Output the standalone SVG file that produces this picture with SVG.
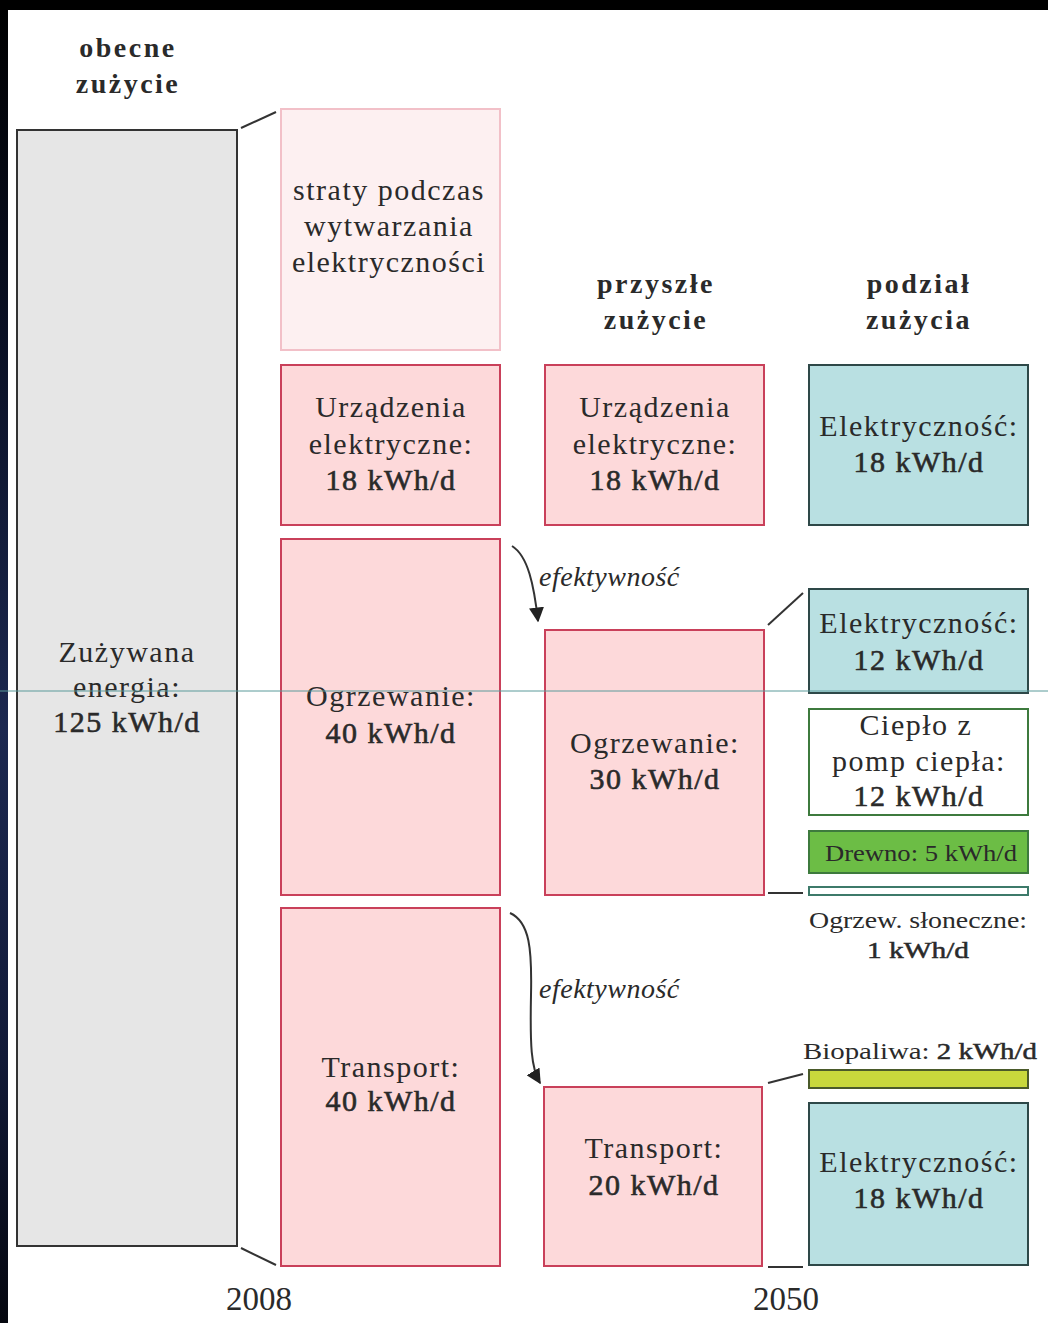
<svg xmlns="http://www.w3.org/2000/svg" width="1048" height="1323" viewBox="0 0 1048 1323">
<defs>
<linearGradient id="edge" x1="0" y1="0" x2="0" y2="1">
<stop offset="0" stop-color="#000000"/>
<stop offset="0.25" stop-color="#0a1024"/>
<stop offset="0.55" stop-color="#1c2850"/>
<stop offset="0.8" stop-color="#121a38"/>
<stop offset="1" stop-color="#05070f"/>
</linearGradient>
<marker id="arr" viewBox="0 0 10 10" refX="9" refY="5" markerWidth="15" markerHeight="15" markerUnits="userSpaceOnUse" orient="auto">
<path d="M0,0 L10,5 L0,10 Z" fill="#222"/>
</marker>
<style>
text{font-family:"Liberation Serif","DejaVu Serif",serif;fill:#2a2a2a;text-anchor:middle}
.t{font-size:30px;letter-spacing:1.5px}
.b{font-size:30px;letter-spacing:1.5px;stroke:#2a2a2a;stroke-width:0.6px}
.h{font-size:28px;font-weight:bold;letter-spacing:2.5px}
.s{font-size:24px}
.i{font-size:28px;font-style:italic;text-anchor:start;letter-spacing:0.5px}
.y{font-size:33px}
.pink{fill:#fdd9da;stroke:#c9405a;stroke-width:2}
.lpink{fill:#fdf0f1;stroke:#f2c0c8;stroke-width:2}
.teal{fill:#b9e0e2;stroke:#2e4848;stroke-width:2}
.grn{fill:#ffffff;stroke:#3d7a3d;stroke-width:2}
.ln{stroke:#333;stroke-width:2;fill:none}
</style>
</defs>
<rect width="1048" height="1323" fill="#ffffff"/>
<rect x="0" y="0" width="8" height="1323" fill="url(#edge)"/>
<rect x="0" y="0" width="1048" height="10" fill="#000"/>

<g id="headers">
<text class="h" x="128" y="57">obecne</text>
<text class="h" x="128" y="93">zużycie</text>
<text class="h" x="656" y="293">przyszłe</text>
<text class="h" x="656" y="329">zużycie</text>
<text class="h" x="919" y="293">podział</text>
<text class="h" x="919" y="329">zużycia</text>
</g>

<g id="connectors">
<line class="ln" x1="241" y1="128" x2="276" y2="112"/>
<line class="ln" x1="241" y1="1248" x2="276" y2="1265"/>
<line class="ln" x1="768" y1="625" x2="803" y2="593"/>
<line class="ln" x1="768" y1="893" x2="803" y2="893"/>
<line class="ln" x1="768" y1="1083" x2="803" y2="1074"/>
<line class="ln" x1="768" y1="1267" x2="803" y2="1267"/>
<path class="ln" stroke-width="1.5" d="M512,546 C528,556 534,585 538,621" marker-end="url(#arr)"/>
<path class="ln" stroke-width="1.5" d="M510,913 C530,922 532,950 531,995 C530,1045 531,1068 540,1083" marker-end="url(#arr)"/>
<text class="i" x="539" y="586">efektywność</text>
<text class="i" x="539" y="998">efektywność</text>
</g>

<g id="current">
<rect x="17" y="130" width="220" height="1116" fill="#e6e6e6" stroke="#333" stroke-width="2"/>
<text class="t" x="127" y="662">Zużywana</text>
<text class="t" x="127" y="697">energia:</text>
<text class="b" x="127" y="732">125 kWh/d</text>
</g>

<g id="losses">
<rect class="lpink" x="281" y="109" width="219" height="241"/>
<text class="t" x="389" y="200">straty podczas</text>
<text class="t" x="389" y="236">wytwarzania</text>
<text class="t" x="389" y="272">elektryczności</text>
</g>

<g id="appliances-2008">
<rect class="pink" x="281" y="365" width="219" height="160"/>
<text class="t" x="391" y="417">Urządzenia</text>
<text class="t" x="391" y="454">elektryczne:</text>
<text class="b" x="391" y="490">18 kWh/d</text>
</g>

<g id="heating-2008">
<rect class="pink" x="281" y="539" width="219" height="356"/>
<text class="t" x="391" y="706">Ogrzewanie:</text>
<text class="b" x="391" y="743">40 kWh/d</text>
</g>

<g id="transport-2008">
<rect class="pink" x="281" y="908" width="219" height="358"/>
<text class="t" x="391" y="1077">Transport:</text>
<text class="b" x="391" y="1111">40 kWh/d</text>
</g>

<g id="appliances-2050">
<rect class="pink" x="545" y="365" width="219" height="160"/>
<text class="t" x="655" y="417">Urządzenia</text>
<text class="t" x="655" y="454">elektryczne:</text>
<text class="b" x="655" y="490">18 kWh/d</text>
</g>

<g id="heating-2050">
<rect class="pink" x="545" y="630" width="219" height="265"/>
<text class="t" x="655" y="753">Ogrzewanie:</text>
<text class="b" x="655" y="789">30 kWh/d</text>
</g>

<g id="transport-2050">
<rect class="pink" x="544" y="1087" width="218" height="179"/>
<text class="t" x="654" y="1158">Transport:</text>
<text class="b" x="654" y="1195">20 kWh/d</text>
</g>

<g id="elec-appliances">
<rect class="teal" x="809" y="365" width="219" height="160"/>
<text class="t" x="919" y="436">Elektryczność:</text>
<text class="b" x="919" y="472">18 kWh/d</text>
</g>

<g id="elec-heating">
<rect class="teal" x="809" y="589" width="219" height="104"/>
<text class="t" x="919" y="633">Elektryczność:</text>
<text class="b" x="919" y="670">12 kWh/d</text>
</g>

<g id="heatpump">
<rect class="grn" x="809" y="709" width="219" height="106"/>
<text class="t" x="916" y="735">Ciepło z</text>
<text class="t" x="919" y="771">pomp ciepła:</text>
<text class="b" x="919" y="806">12 kWh/d</text>
</g>

<g id="wood">
<rect x="809" y="831" width="219" height="42" fill="#6cbd45" stroke="#3d7a3d" stroke-width="2"/>
<text class="s" x="921" y="861" textLength="192" lengthAdjust="spacingAndGlyphs" fill="#1e2e1e">Drewno: 5 kWh/d</text>
</g>

<g id="solar">
<rect x="809" y="887" width="219" height="8" fill="#ffffff" stroke="#3d7a6a" stroke-width="2"/>
<text class="s" x="918" y="928" textLength="218" lengthAdjust="spacingAndGlyphs">Ogrzew. słoneczne:</text>
<text class="s" x="918" y="958" textLength="102" lengthAdjust="spacingAndGlyphs" stroke="#2a2a2a" stroke-width="0.5">1 kWh/d</text>
</g>

<g id="biofuel">
<text class="s" x="920" y="1059" textLength="234" lengthAdjust="spacingAndGlyphs">Biopaliwa: <tspan stroke="#2a2a2a" stroke-width="0.5">2 kWh/d</tspan></text>
<rect x="809" y="1070" width="219" height="18" fill="#c8d83c" stroke="#4a5a2a" stroke-width="2"/>
</g>

<g id="elec-transport">
<rect class="teal" x="809" y="1103" width="219" height="162"/>
<text class="t" x="919" y="1172">Elektryczność:</text>
<text class="b" x="919" y="1208">18 kWh/d</text>
</g>

<g id="years">
<text class="y" x="259" y="1310">2008</text>
<text class="y" x="786" y="1310">2050</text>
</g>

<line x1="0" y1="691" x2="1048" y2="691" stroke="#5a9a9a" stroke-width="1"/>
</svg>
